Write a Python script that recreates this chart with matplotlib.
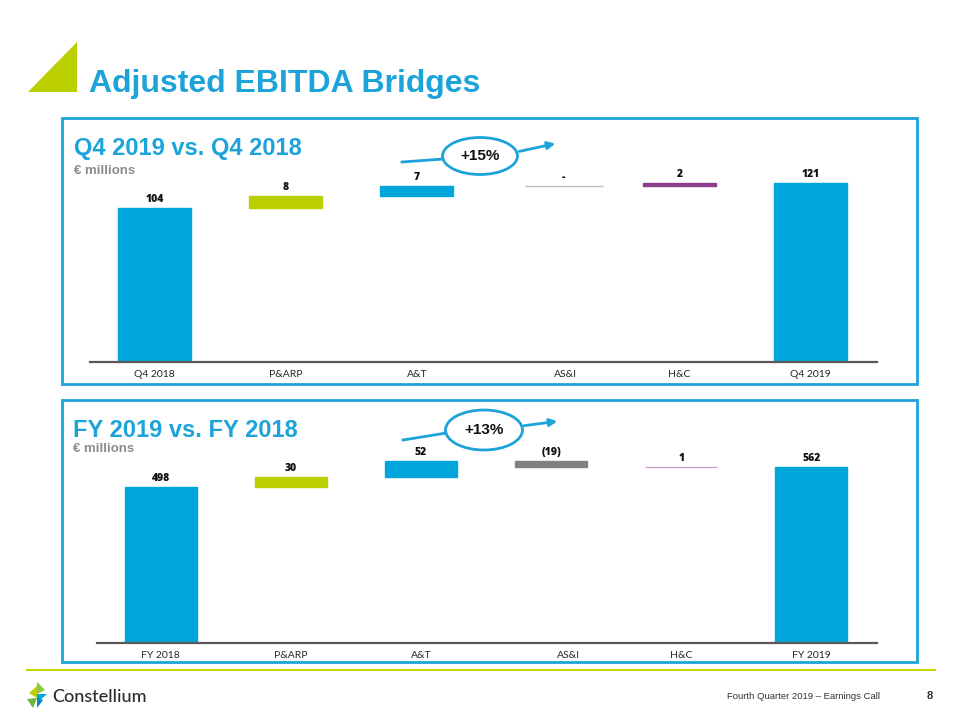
import matplotlib
matplotlib.use("Agg")
import matplotlib.pyplot as plt
from matplotlib.patches import Rectangle, Ellipse, Polygon, FancyArrowPatch
from matplotlib.lines import Line2D

# data
q4_labels = ["Q4 2018", "P&ARP", "A&T", "AS&I", "H&C", "Q4 2019"]
q4_values = [104, 8, 7, 0, 2, 121]
fy_labels = ["FY 2018", "P&ARP", "A&T", "AS&I", "H&C", "FY 2019"]
fy_values = [498, 30, 52, -19, 1, 562]
q4_growth = "+15%"
fy_growth = "+13%"

# layout: slot positions (AS&I sits a little to the right in the slide)
tick_pos = [0, 1, 2, 3.13, 4, 5]
q4_bar_pos = [0, 1, 2, 3.12, 4, 5]
fy_bar_pos = [0, 1, 2, 3, 4, 5]

BLUE = "#00A6DC"
LIME = "#BCCF00"
TITLE_BLUE = "#1BA3DA"
q4_colors = [BLUE, LIME, BLUE, "#BDBDBD", "#8E3E8E", BLUE]
fy_colors = [BLUE, LIME, BLUE, "#808080", "#C9A3C8", BLUE]
q4_widths = [0.555, 0.555, 0.555, 0.6, 0.555, 0.555]
fy_widths = [0.555] * 6

W, H = 960, 720
fig = plt.figure(figsize=(9.6, 7.2), dpi=100)
fig.patch.set_facecolor("white")


def fx(x):
    return x / W


def fy(y):
    return 1 - y / H


def fmt(v):
    if v == 0:
        return "-"
    if v < 0:
        return "({})".format(-v)
    return str(v)


def waterfall(left, right, base_y, top_y, ymax, values, labels, colors, xs, widths):
    ax = fig.add_axes([fx(left), fy(base_y), (right - left) / W, (base_y - top_y) / H])
    n = len(values)
    # first and last are totals, the rest are steps
    bottoms = []
    run = 0
    for i, v in enumerate(values):
        if i == 0 or i == n - 1:
            bottoms.append(0)
            run = v
        else:
            bottoms.append(run)
            run += v
    ax.bar(xs, values, bottom=bottoms, width=widths, color=colors,
           edgecolor=colors, linewidth=1.0)
    for x, b, v in zip(xs, bottoms, values):
        top = max(b, b + v)
        ax.annotate(fmt(v), (x, top), xytext=(0, 4.5), textcoords="offset points",
                    ha="center", va="baseline", fontsize=7.5, fontweight="heavy",
                    family="Open Sans", color="#111111")
    ax.set_xlim(-0.49, n - 1 + 0.505)
    ax.set_ylim(0, ymax)
    ax.set_xticks(tick_pos)
    ax.set_xticklabels(labels, fontsize=7.5, family="Lato", color="#262626")
    ax.tick_params(axis="x", length=0, pad=6)
    ax.set_yticks([])
    for s in ["top", "left", "right"]:
        ax.spines[s].set_visible(False)
    ax.spines["bottom"].set_color("#595959")
    ax.spines["bottom"].set_linewidth(1.6)
    ax.patch.set_alpha(0)
    return ax


def growth_bubble(cx, cy, w, h, text, tail, head):
    fig.patches.append(Ellipse((fx(cx), fy(cy)), w / W, h / H, transform=fig.transFigure,
                               facecolor="white", edgecolor=TITLE_BLUE, linewidth=2.0, zorder=5))
    fig.lines.append(Line2D([fx(tail[0]), fx(cx - w / 2 + 1)], [fy(tail[1]), fy(cy + 3)],
                            transform=fig.transFigure, color=TITLE_BLUE, linewidth=2.0, zorder=4))
    fig.patches.append(FancyArrowPatch((fx(cx + w / 2 - 1), fy(cy - 4)), (fx(head[0]), fy(head[1])),
                                       transform=fig.transFigure, arrowstyle="-|>", mutation_scale=11,
                                       color=TITLE_BLUE, linewidth=2.0, zorder=4))
    fig.text(fx(cx), fy(cy), text, ha="center", va="center", fontsize=11, fontweight="bold",
             family="Liberation Sans", color="#111111", zorder=6)


# header
fig.patches.append(Polygon([(fx(28), fy(92)), (fx(77), fy(42)), (fx(77), fy(92))],
                           closed=True, transform=fig.transFigure, facecolor=LIME, edgecolor="none"))
fig.text(fx(89), fy(92), "Adjusted EBITDA Bridges", fontsize=23, fontweight="bold",
         family="Liberation Sans", color=TITLE_BLUE, va="baseline")

# panel frames
for top, bottom in [(118, 384), (400, 662)]:
    fig.patches.append(Rectangle((fx(62), fy(bottom)), (917 - 62) / W, (bottom - top) / H,
                                 transform=fig.transFigure, facecolor="none",
                                 edgecolor=TITLE_BLUE, linewidth=2.0))

# Q4 panel
fig.text(fx(74), fy(155), "Q4 2019 vs. Q4 2018", fontsize=17, fontweight="bold",
         family="Liberation Sans", color=TITLE_BLUE, va="baseline")
fig.text(fx(74), fy(174), "€ millions", fontsize=9.5, fontweight="bold",
         family="Liberation Sans", color="#8c8c8c", va="baseline")
waterfall(90, 877, 362, 150, 212 / 1.48, q4_values, q4_labels, q4_colors, q4_bar_pos, q4_widths)
growth_bubble(480, 156, 75, 37, q4_growth, (402, 162), (558, 143))

# FY panel
fig.text(fx(73), fy(437), "FY 2019 vs. FY 2018", fontsize=17, fontweight="bold",
         family="Liberation Sans", color=TITLE_BLUE, va="baseline")
fig.text(fx(73), fy(452), "€ millions", fontsize=9.5, fontweight="bold",
         family="Liberation Sans", color="#8c8c8c", va="baseline")
waterfall(97, 877, 643, 430, 213 / 0.3135, fy_values, fy_labels, fy_colors, fy_bar_pos, fy_widths)
growth_bubble(484, 430, 77, 40, fy_growth, (403, 440), (560, 421))

# footer
fig.lines.append(Line2D([fx(27), fx(935)], [fy(670), fy(670)], transform=fig.transFigure,
                        color="#C8D400", linewidth=1.5))
logo = [
    ([(37, 682), (45, 690), (37, 694)], "#8DC63F"),
    ([(29, 693), (37, 686), (37, 698)], "#BCCF00"),
    ([(37, 694), (47, 694), (37, 703)], "#00A6DC"),
    ([(27, 699), (37, 698), (33, 708)], "#6CB33F"),
    ([(37, 698), (43, 700), (37, 708)], "#0089C4"),
]
for pts, col in logo:
    fig.patches.append(Polygon([(fx(a), fy(b)) for a, b in pts], closed=True,
                               transform=fig.transFigure, facecolor=col, edgecolor="none"))
fig.text(fx(52), fy(702), "Constellium", fontsize=13, fontweight="medium", family="Lato",
         color="#2b2b2b", va="baseline")
fig.text(fx(880), fy(699), "Fourth Quarter 2019 – Earnings Call", fontsize=6.8,
         family="Liberation Sans", color="#333333", ha="right", va="baseline")
fig.text(fx(930), fy(699), "8", fontsize=8, fontweight="bold", family="Liberation Sans",
         color="#333333", ha="center", va="baseline")

fig.savefig("out.png", dpi=100, facecolor="white")
